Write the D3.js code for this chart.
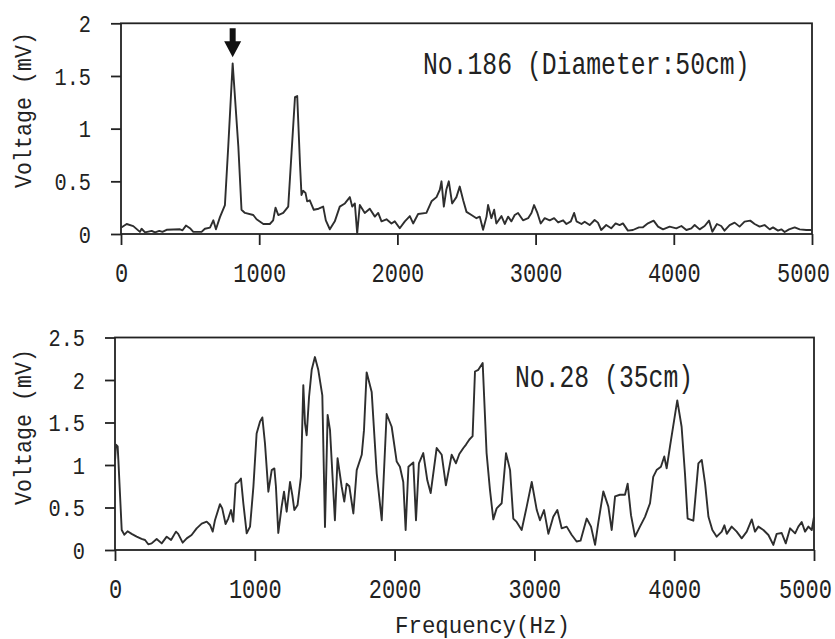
<!DOCTYPE html>
<html>
<head>
<meta charset="utf-8">
<script src="https://cdn.jsdelivr.net/npm/d3@7/dist/d3.min.js"></script>
<style>
  html, body { margin: 0; padding: 0; background: #fff; }
  svg { display: block; }
  text { font-family: "Liberation Mono", "DejaVu Sans Mono", monospace; fill: #222; }
</style>
</head>
<body>
<svg id="chart" width="835" height="639"></svg>
<script>
// Spectrum of specimen No.186 (upper panel)
const freqTop = [0,41,89,137,149,174,222,246,277,300,330,427,445,470,499,523,583,607,644,668,687,716,752,776,808,849,872,897,957,981,1030,1077,1101,1118,1138,1174,1210,1234,1259,1275,1295,1306,1318,1335,1347,1366,1395,1430,1463,1482,1511,1547,1583,1620,1656,1673,1692,1709,1728,1764,1800,1837,1861,1885,1921,1957,1981,2017,2054,2090,2114,2150,2210,2247,2283,2307,2319,2336,2354,2372,2396,2427,2451,2476,2500,2536,2572,2596,2620,2645,2656,2680,2700,2716,2753,2777,2801,2825,2849,2873,2909,2946,2970,2989,3013,3037,3066,3102,3134,3163,3199,3223,3255,3279,3296,3332,3355,3391,3427,3451,3475,3511,3547,3579,3608,3632,3668,3704,3748,3777,3813,3854,3886,3922,3970,4018,4055,4091,4127,4151,4187,4223,4255,4279,4312,4343,4367,4404,4440,4476,4512,4553,4585,4621,4657,4694,4718,4754,4778,4802,4834,4875,4911,4959,5000];
const voltTop = [0.06,0.095,0.075,0.02,0.05,0.015,0.03,0.015,0.03,0.02,0.04,0.045,0.035,0.08,0.055,0.02,0.02,0.05,0.06,0.13,0.045,0.16,0.275,0.83,1.62,0.83,0.23,0.2,0.18,0.14,0.095,0.095,0.13,0.25,0.18,0.2,0.26,0.77,1.30,1.31,0.67,0.37,0.41,0.39,0.31,0.32,0.23,0.24,0.26,0.13,0.045,0.12,0.26,0.29,0.35,0.26,0.29,0.005,0.275,0.2,0.24,0.165,0.2,0.12,0.14,0.1,0.12,0.055,0.12,0.17,0.1,0.19,0.2,0.31,0.35,0.42,0.5,0.26,0.42,0.5,0.29,0.35,0.45,0.32,0.21,0.18,0.15,0.165,0.04,0.165,0.275,0.15,0.23,0.1,0.17,0.095,0.165,0.12,0.18,0.2,0.13,0.15,0.2,0.275,0.2,0.1,0.15,0.13,0.15,0.11,0.13,0.095,0.12,0.2,0.12,0.095,0.117,0.085,0.133,0.108,0.038,0.085,0.054,0.101,0.085,0.101,0.032,0.038,0.063,0.063,0.101,0.127,0.07,0.044,0.07,0.054,0.076,0.038,0.054,0.085,0.044,0.076,0.127,0.022,0.095,0.076,0.032,0.085,0.108,0.07,0.117,0.127,0.095,0.07,0.085,0.044,0.063,0.032,0.044,0.019,0.044,0.063,0.044,0.038,0.038];

// Spectrum of specimen No.28 (lower panel)
const freqBottom = [0,7,19,24,48,67,90,119,155,190,215,238,262,298,334,370,401,436,452,484,513,548,584,620,656,680,699,715,751,767,791,810,830,846,863,882,901,918,942,966,990,1013,1037,1054,1073,1097,1121,1140,1151,1168,1192,1209,1228,1252,1269,1283,1306,1330,1347,1359,1371,1388,1407,1430,1454,1483,1502,1521,1538,1573,1592,1621,1640,1657,1676,1705,1729,1765,1781,1800,1836,1872,1908,1943,1979,2015,2038,2062,2079,2099,2134,2153,2174,2205,2234,2258,2301,2337,2367,2408,2439,2463,2492,2511,2535,2558,2575,2599,2630,2658,2682,2706,2730,2766,2797,2826,2849,2873,2909,2945,2981,3017,3040,3069,3100,3135,3164,3195,3231,3266,3302,3330,3374,3405,3434,3458,3493,3529,3553,3577,3612,3648,3667,3691,3720,3755,3791,3827,3850,3874,3905,3929,3946,3970,4022,4053,4077,4096,4137,4173,4197,4221,4245,4273,4304,4340,4359,4376,4411,4447,4483,4519,4555,4578,4602,4638,4674,4709,4733,4769,4798,4829,4865,4888,4912,4936,4960,4984,5000];
const voltBottom = [1.05,1.24,1.22,1.06,0.235,0.18,0.22,0.19,0.157,0.13,0.118,0.067,0.078,0.13,0.078,0.157,0.118,0.216,0.19,0.086,0.137,0.176,0.255,0.31,0.333,0.294,0.216,0.35,0.54,0.49,0.306,0.37,0.47,0.333,0.78,0.8,0.84,0.55,0.196,0.275,0.745,1.37,1.51,1.56,1.25,0.686,0.94,0.96,0.75,0.2,0.51,0.686,0.45,0.8,0.64,0.47,0.53,0.86,1.94,1.49,1.35,1.8,2.12,2.27,2.12,1.82,0.27,1.59,1.41,0.35,1.08,0.75,0.57,0.78,0.75,0.43,0.94,1.12,1.41,2.09,1.86,0.9,0.35,1.6,1.45,1.04,0.98,0.8,0.235,0.98,1.03,0.35,1.02,1.14,0.82,0.67,1.2,1.12,0.76,1.12,1.02,1.13,1.2,1.24,1.3,1.34,2.1,2.12,2.2,1.14,0.71,0.36,0.49,0.55,1.14,0.94,0.37,0.33,0.235,0.51,0.8,0.47,0.35,0.47,0.19,0.39,0.47,0.255,0.275,0.18,0.1,0.11,0.37,0.275,0.06,0.33,0.69,0.51,0.235,0.63,0.65,0.65,0.78,0.41,0.157,0.275,0.39,0.55,0.86,0.94,0.98,1.1,0.96,1.22,1.76,1.45,0.9,0.37,0.345,1.02,1.06,0.78,0.39,0.235,0.157,0.216,0.29,0.19,0.275,0.216,0.137,0.216,0.36,0.216,0.275,0.235,0.176,0.06,0.19,0.2,0.078,0.255,0.196,0.275,0.33,0.216,0.275,0.235,0.39];

const freqTicks = [0, 1000, 2000, 3000, 4000, 5000];
const voltTicksTop = [0, 0.5, 1, 1.5, 2];
const voltTicksBottom = [0, 0.5, 1, 1.5, 2, 2.5];
const titleTop = "No.186 (Diameter:50cm)";
const titleBottom = "No.28 (35cm)";
const yTitle = "Voltage (mV)";
const xTitle = "Frequency(Hz)";
const markedPeakFreq = 808; // resonance marked with the arrow

const svg = d3.select("#chart");
const ink = "#222";
const ADV = 0.6; // advance width of the monospace face, in em

const panels = [
  { freq: freqTop, volt: voltTop, yMax: 2, yTicks: voltTicksTop, title: titleTop,
    left: 121, right: 812, top: 23.3, bottom: 234,
    titleX: 423, titleY: 74, yTitleCenter: 110, arrow: true },
  { freq: freqBottom, volt: voltBottom, yMax: 2.5, yTicks: voltTicksBottom, title: titleBottom,
    left: 115, right: 814, top: 337.5, bottom: 550,
    titleX: 515, titleY: 386.5, yTitleCenter: 427, arrow: false }
];

// narrow, tall character cells: compress each glyph horizontally
function cellScale(fontSize, charW) { return charW / (ADV * fontSize); }

panels.forEach(p => {
  const x = d3.scaleLinear().domain([0, 5000]).range([p.left, p.right]);
  const y = d3.scaleLinear().domain([0, p.yMax]).range([p.bottom, p.top]);
  const g = svg.append("g");

  // frame
  g.append("rect")
    .attr("x", p.left).attr("y", p.top)
    .attr("width", p.right - p.left).attr("height", p.bottom - p.top)
    .attr("fill", "none").attr("stroke", ink).attr("stroke-width", 1.8);

  // x axis
  const sxX = cellScale(27, 13.2);
  const xa = g.append("g").attr("transform", `translate(0,${p.bottom})`)
    .call(d3.axisBottom(x).tickValues(freqTicks).tickSize(11).tickFormat(d => String(d)));
  xa.select(".domain").remove();
  xa.selectAll(".tick line").attr("stroke", ink).attr("stroke-width", 1.8);
  xa.selectAll(".tick text")
    .attr("y", 48).attr("dy", 0)
    .attr("x", d => (d === 5000 ? -9 : 0) / sxX)
    .attr("transform", `scale(${sxX},1)`)
    .style("font-size", "27px").attr("fill", ink);

  // y axis
  const sxY = cellScale(23, 12.2);
  const ya = g.append("g").attr("transform", `translate(${p.left},0)`)
    .call(d3.axisLeft(y).tickValues(p.yTicks).tickSize(10).tickFormat(d => String(d)));
  ya.select(".domain").remove();
  ya.selectAll(".tick line").attr("stroke", ink).attr("stroke-width", 1.8);
  ya.selectAll(".tick text")
    .attr("x", -30 / sxY).attr("dy", "0.36em")
    .attr("transform", `scale(${sxY},1)`)
    .style("font-size", "23px").attr("fill", ink);

  // y axis title
  g.append("text")
    .attr("transform", `translate(31,${p.yTitleCenter}) rotate(-90) scale(${cellScale(24, 13)},1)`)
    .attr("text-anchor", "middle")
    .style("font-size", "24px")
    .text(yTitle);

  // panel title
  g.append("text")
    .attr("transform", `translate(${p.titleX},${p.titleY}) scale(${cellScale(31, 14.85)},1)`)
    .style("font-size", "31px")
    .text(p.title);

  // spectrum line
  const pts = p.freq.map((f, i) => [f, p.volt[i]]);
  g.append("path")
    .datum(pts)
    .attr("fill", "none")
    .attr("stroke", "#2e2e2e")
    .attr("stroke-width", 1.9)
    .attr("stroke-linejoin", "round")
    .attr("d", d3.line().x(d => x(d[0])).y(d => y(d[1])));

  // arrow over the marked resonance peak
  if (p.arrow) {
    const i = p.freq.indexOf(markedPeakFreq);
    const ax = x(markedPeakFreq);
    const tip = y(p.volt[i]) - 6;
    g.append("path")
      .attr("fill", "#111")
      .attr("d", `M${ax - 3},${tip - 29} L${ax + 3},${tip - 29} L${ax + 3},${tip - 16} L${ax + 8.5},${tip - 16} L${ax},${tip} L${ax - 8.5},${tip - 16} L${ax - 3},${tip - 16} Z`);
  }
});

// frequency axis title below the lower panel
svg.append("text")
  .attr("transform", `translate(395,633) scale(${cellScale(24, 13.45)},1)`)
  .style("font-size", "24px")
  .text(xTitle);
</script>
</body>
</html>
